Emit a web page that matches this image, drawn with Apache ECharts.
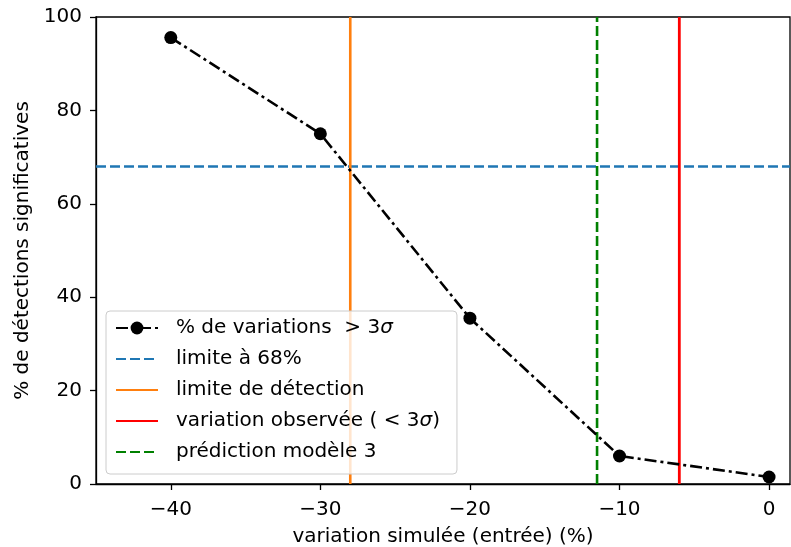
<!DOCTYPE html>
<html><head><meta charset="utf-8">
<script src="https://cdn.jsdelivr.net/npm/echarts@6/dist/echarts.min.js"></script>
<style>html,body{margin:0;padding:0;background:#fff}#c{width:791px;height:547px}</style>
</head><body><div id="c"></div>
<script>
const xValues = [-40, -30, -20, -10, 0];
const pctValues = [95.6, 75.0, 35.5, 6.0, 1.5];
const limit68 = 68;
const detectionLimit = -28;
const observedVariation = -6;
const model3Prediction = -11.5;
const xTicks = [-40, -30, -20, -10, 0];
const yTicks = [0, 20, 40, 60, 80, 100];
const xMin = -45, xMax = 1.4, yMin = 0, yMax = 100;

const FONT = 'DejaVu Sans';
const FS = 20;
const chart = echarts.init(document.getElementById('c'), null, {renderer: 'canvas'});
const minus = v => String(v).replace('-', '\u2212');
const noSym = {itemStyle: {opacity: 0}};

chart.setOption({
  animation: false,
  backgroundColor: '#fff',
  textStyle: {fontFamily: FONT},
  grid: {left: 96, top: 17, right: 1, bottom: 63, show: true, borderColor: '#000', borderWidth: 1.3,
         containLabel: false, outerBoundsMode: 'none'},
  xAxis: {
    type: 'value', min: xMin, max: xMax,
    name: 'variation simulée (entrée) (%)', nameLocation: 'middle', nameGap: 43,
    nameTextStyle: {fontFamily: FONT, fontSize: FS, color: '#000'},
    axisLine: {show: true, onZero: false, lineStyle: {color: '#000', width: 1.3}},
    axisTick: {show: true, customValues: xTicks, length: 6, lineStyle: {color: '#000', width: 1.3}},
    axisLabel: {customValues: xTicks, formatter: minus, fontFamily: FONT, fontSize: FS, color: '#000', margin: 16},
    splitLine: {show: false}
  },
  yAxis: {
    type: 'value', min: yMin, max: yMax, interval: 20,
    name: '% de détections significatives', nameLocation: 'middle', nameGap: 63, nameRotate: 90,
    nameTextStyle: {fontFamily: FONT, fontSize: FS, color: '#000'},
    axisLine: {show: true, onZero: false, lineStyle: {color: '#000', width: 1.3}},
    axisTick: {show: true, length: 6, lineStyle: {color: '#000', width: 1.3}},
    axisLabel: {fontFamily: FONT, fontSize: FS, color: '#000', margin: 14},
    splitLine: {show: false}
  },
  legend: {
    orient: 'vertical', left: 106, top: 311,
    backgroundColor: 'rgba(255,255,255,0.8)', borderColor: '#cccccc', borderWidth: 1, borderRadius: 4,
    padding: [7, 17, 12, 9], itemWidth: 42, itemHeight: 16, itemGap: 11,
    textStyle: {fontFamily: FONT, fontSize: FS, color: '#000', lineHeight: 20, padding: [0, 0, 0, 13],
      rich: {n: {fontFamily: FONT, fontSize: FS, color: '#000', lineHeight: 20}, s: {fontFamily: FONT, fontSize: FS, fontStyle: 'italic', color: '#000', lineHeight: 20}}},
    formatter: function (name) {
      if (name.indexOf('σ') >= 0) {
        const parts = name.split('σ');
        return '{n|' + parts[0] + '}{s|σ}{n|' + parts[1] + '}';
      }
      return name;
    },
    data: [
      {name: '% de variations  > 3σ'},
      Object.assign({name: 'limite à 68%'}, noSym),
      Object.assign({name: 'limite de détection'}, noSym),
      Object.assign({name: 'variation observée ( < 3σ)'}, noSym),
      Object.assign({name: 'prédiction modèle 3'}, noSym)
    ]
  },
  series: [
    {
      name: 'limite à 68%', type: 'line', symbol: 'none', z: 2,
      data: [[xMin, limit68], [xMax, limit68]],
      lineStyle: {color: '#1f77b4', width: 2.6, type: [10, 4]}, itemStyle: {color: '#1f77b4'}
    },
    {
      name: 'limite de détection', type: 'line', symbol: 'none', z: 2,
      data: [[detectionLimit, yMin], [detectionLimit, yMax]],
      lineStyle: {color: '#ff7f0e', width: 2.6}, itemStyle: {color: '#ff7f0e'}
    },
    {
      name: 'variation observée ( < 3σ)', type: 'line', symbol: 'none', z: 2,
      data: [[observedVariation, yMin], [observedVariation, yMax]],
      lineStyle: {color: '#ff0000', width: 2.8}, itemStyle: {color: '#ff0000'}
    },
    {
      name: 'prédiction modèle 3', type: 'line', symbol: 'none', z: 2,
      data: [[model3Prediction, yMin], [model3Prediction, yMax]],
      lineStyle: {color: '#008000', width: 2.6, type: [10, 4]}, itemStyle: {color: '#008000'}
    },
    {
      name: '% de variations  > 3σ', type: 'line', z: 5,
      data: xValues.map((x, i) => [x, pctValues[i]]),
      symbol: 'circle', symbolSize: 13, showSymbol: true,
      lineStyle: {color: '#000', width: 2.6, type: [12, 4, 3, 4]},
      itemStyle: {color: '#000'}
    }
  ]
});
</script></body></html>
